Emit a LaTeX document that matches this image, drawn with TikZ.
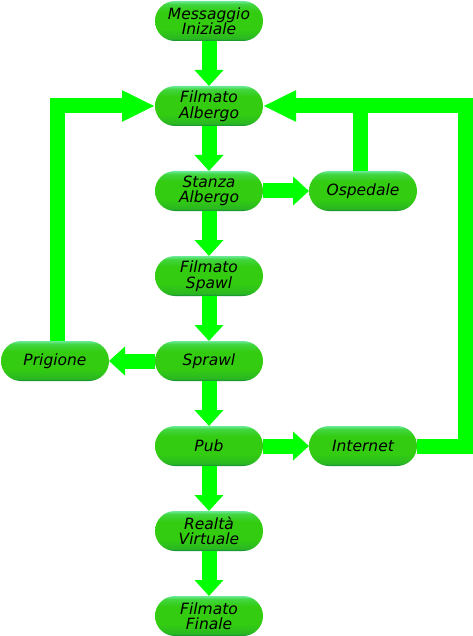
\documentclass[tikz,border=0pt]{standalone}
\usepackage{fontspec}
\setmainfont{DejaVu Sans}
\usetikzlibrary{arrows.meta}
\definecolor{arrowgreen}{HTML}{00FF00}
\definecolor{pilltop}{HTML}{6AEA96}
\definecolor{pilltopb}{HTML}{40D640}
\definecolor{pillmid}{HTML}{33CC11}
\definecolor{pilllow}{HTML}{2AB822}
\definecolor{pillbot}{HTML}{10863A}
\pgfdeclareverticalshading{pillshade}{100bp}{%
  color(0bp)=(pillbot); color(25bp)=(pillbot); color(28bp)=(pilllow);
  color(40bp)=(pillmid); color(62bp)=(pillmid); color(71bp)=(pilltopb);
  color(75bp)=(pilltop); color(100bp)=(pilltop)}
\begin{document}
\begin{tikzpicture}[x=1pt,y=-1pt,
  pill/.style={shading=pillshade, rounded corners=20pt, minimum width=108pt,
    minimum height=40pt, inner sep=0pt, outer sep=0pt, align=center,
    font=\fontsize{15.5}{15.5}\selectfont\itshape, text=black},
  shortarrow/.style={draw=arrowgreen, line width=15pt,
    -{Triangle[width=28pt,length=16pt]}, line join=miter},
  longarrow/.style={draw=arrowgreen, line width=15pt,
    -{Triangle[width=29pt,length=33pt]}, line join=miter},
  plainline/.style={draw=arrowgreen, line width=15pt, line join=miter}]
\useasboundingbox (0,0) rectangle (472,636);
\node[pill] (msg) at (209,21) {Messaggio\\Iniziale};
\node[pill] (fa) at (209,106) {Filmato\\Albergo};
\node[pill] (sa) at (209,191) {Stanza\\Albergo};
\node[pill] (osp) at (363,191) {Ospedale};
\node[pill] (fs) at (209,276) {Filmato\\Spawl};
\node[pill] (pri) at (55,361) {Prigione};
\node[pill] (spr) at (209,361) {Sprawl};
\node[pill] (pub) at (209,446) {Pub};
\node[pill] (int) at (363,446) {Internet};
\node[pill] (rv) at (209,531) {Realtà\\Virtuale};
\node[pill] (ff) at (209,616) {Filmato\\Finale};

\draw[shortarrow] (msg.south) -- (fa.north);
\draw[shortarrow] (fa.south) -- (sa.north);
\draw[shortarrow] (sa.east) -- (osp.west);
\draw[shortarrow] (sa.south) -- (fs.north);
\draw[shortarrow] (fs.south) -- (spr.north);
\draw[shortarrow] (spr.west) -- (pri.east);
\draw[shortarrow] (spr.south) -- (pub.north);
\draw[shortarrow] (pub.east) -- (int.west);
\draw[shortarrow] (pub.south) -- (rv.north);
\draw[shortarrow] (rv.south) -- (ff.north);

\coordinate (pritop) at ([xshift=2.5pt]pri.north);
\draw[longarrow] (pritop) -- (pritop |- fa.west) -- (fa.west);
\coordinate (corner) at ([xshift=48pt]int.east);
\draw[longarrow] (int.east) -- (corner) |- (fa.east);
\coordinate (osptop) at ([xshift=-2.5pt]osp.north);
\draw[plainline] (osptop) -- (osptop |- fa.east);
\end{tikzpicture}
\end{document}
